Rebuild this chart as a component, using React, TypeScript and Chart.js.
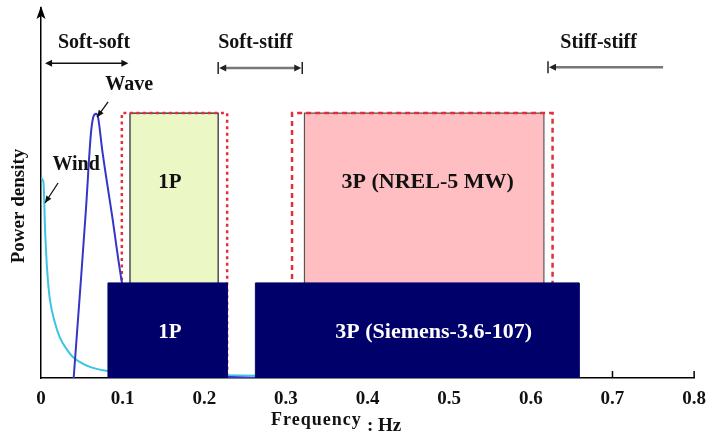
import React, { useEffect, useRef } from "react";
import { Chart, registerables } from "chart.js";

Chart.register(...registerables);

// ---- data ----
const xTicks = [0, 0.1, 0.2, 0.3, 0.4, 0.5, 0.6, 0.7, 0.8];

const windFreq = [0, 0.003, 0.005, 0.007, 0.009, 0.011, 0.017, 0.023, 0.032, 0.039, 0.06, 0.081, 0.12, 0.195, 0.305];
const windDensity = [0.54, 0.53, 0.4, 0.31, 0.25, 0.21, 0.15, 0.11, 0.076, 0.057, 0.03, 0.019, 0.012, 0.008, 0.005];

const waveFreq = [0.04, 0.048, 0.055, 0.061, 0.064, 0.0675, 0.07, 0.075, 0.087, 0.099, 0.112, 0.134, 0.17, 0.232, 0.27];
const waveDensity = [0, 0.238, 0.454, 0.657, 0.705, 0.714, 0.703, 0.616, 0.44, 0.26, 0.13, 0.035, 0.01, 0.003, 0.0];

// frequency bands [from, to]
const nrel1P = [0.109, 0.217];
const nrel3P = [0.3227, 0.616];
const nrel1PLimits = [0.099, 0.228];
const nrel3PLimits = [0.3075, 0.6266];
const siemens1P = [0.082, 0.228];
const siemens3P = [0.2626, 0.659];
const nrelLevel = 0.716;
const siemensLevel = 0.257;

// design regions [from, to]
const softSoft = [0.005, 0.107];
const softStiff = [0.217, 0.32];
const stiffStiff = [0.621, 0.762];

const FONT = "'Liberation Serif', 'Times New Roman', serif";

function box(range: number[], level: number) {
  return [
    { x: range[0], y: 0 },
    { x: range[0], y: level },
    { x: range[1], y: level },
    { x: range[1], y: 0 },
  ];
}

function pts(xs: number[], ys: number[]) {
  return xs.map((x, i) => ({ x, y: ys[i] }));
}

const annotationPlugin = {
  id: "annot",
  beforeDatasetsDraw(chart: any) {
    const { ctx, scales } = chart;
    const xs = scales.x;
    const y0 = scales.y.getPixelForValue(0);
    ctx.save();
    ctx.strokeStyle = "#000";
    ctx.lineWidth = 1.5;
    xTicks.forEach((t) => {
      if (t === 0) return;
      const px = xs.getPixelForValue(t);
      ctx.beginPath();
      ctx.moveTo(px, y0);
      ctx.lineTo(px, y0 - 7);
      ctx.stroke();
    });
    ctx.restore();
  },
  afterDatasetsDraw(chart: any) {
    const { ctx, scales, chartArea } = chart;
    const X = (v: number) => scales.x.getPixelForValue(v);
    const Y = (v: number) => scales.y.getPixelForValue(v);
    ctx.save();

    const text = (s: string, x: number, y: number, size: number, color = "#111") => {
      ctx.font = `bold ${size}px ${FONT}`;
      ctx.fillStyle = color;
      ctx.textAlign = "center";
      ctx.textBaseline = "middle";
      ctx.fillText(s, x, y);
    };
    const head = (x: number, y: number, dir: number, color: string, len = 7, hw = 3.5) => {
      ctx.fillStyle = color;
      ctx.beginPath();
      ctx.moveTo(x, y);
      ctx.lineTo(x - dir * len, y - hw);
      ctx.lineTo(x - dir * len, y + hw);
      ctx.closePath();
      ctx.fill();
    };
    const hline = (a: number, b: number, y: number, color: string, w: number) => {
      ctx.strokeStyle = color;
      ctx.lineWidth = w;
      ctx.beginPath();
      ctx.moveTo(a, y);
      ctx.lineTo(b, y);
      ctx.stroke();
    };
    const bar = (x: number, y: number, color: string) => {
      ctx.strokeStyle = color;
      ctx.lineWidth = 1.5;
      ctx.beginPath();
      ctx.moveTo(x, y - 6);
      ctx.lineTo(x, y + 6);
      ctx.stroke();
    };
    const diag = (x1: number, y1: number, x2: number, y2: number) => {
      ctx.strokeStyle = "#111";
      ctx.lineWidth = 1.3;
      ctx.beginPath();
      ctx.moveTo(x1, y1);
      ctx.lineTo(x2, y2);
      ctx.stroke();
      const ang = Math.atan2(y2 - y1, x2 - x1);
      ctx.fillStyle = "#111";
      ctx.beginPath();
      ctx.moveTo(x2, y2);
      ctx.lineTo(x2 - 7 * Math.cos(ang) + 3 * Math.sin(ang), y2 - 7 * Math.sin(ang) - 3 * Math.cos(ang));
      ctx.lineTo(x2 - 7 * Math.cos(ang) - 3 * Math.sin(ang), y2 - 7 * Math.sin(ang) + 3 * Math.cos(ang));
      ctx.closePath();
      ctx.fill();
    };

    // y-axis arrowhead
    const ax = chartArea.left;
    ctx.fillStyle = "#000";
    ctx.beginPath();
    ctx.moveTo(ax, chartArea.top - 2);
    ctx.lineTo(ax - 4.5, chartArea.top + 11);
    ctx.lineTo(ax, chartArea.top + 8);
    ctx.lineTo(ax + 4.5, chartArea.top + 11);
    ctx.closePath();
    ctx.fill();

    // region labels and arrows
    text("Soft-soft", X(0.065), Y(0.905), 20);
    const ys = Y(0.851);
    hline(X(softSoft[0]) + 4, X(softSoft[1]) - 4, ys, "#111", 1.5);
    head(X(softSoft[0]), ys, -1, "#111");
    head(X(softSoft[1]), ys, 1, "#111");

    text("Soft-stiff", X(0.2626), Y(0.905), 20);
    const yst = Y(0.838);
    hline(X(softStiff[0]) + 4, X(softStiff[1]) - 4, yst, "#777", 2.5);
    head(X(softStiff[0]) + 1, yst, -1, "#222");
    head(X(softStiff[1]) - 1, yst, 1, "#222");
    bar(X(softStiff[0]), yst, "#222");
    bar(X(softStiff[1]), yst, "#222");

    text("Stiff-stiff", X(0.683), Y(0.905), 20);
    const ysf = Y(0.84);
    hline(X(stiffStiff[0]) + 4, X(stiffStiff[1]), ysf, "#777", 2.5);
    head(X(stiffStiff[0]) + 1, ysf, -1, "#222");
    bar(X(stiffStiff[0]), ysf, "#222");

    // curve labels
    text("Wave", X(0.108), Y(0.792), 20);
    diag(X(0.0822), Y(0.746), X(0.0687), Y(0.705));
    text("Wind", X(0.043), Y(0.576), 20);
    diag(X(0.0209), Y(0.527), X(0.0049), Y(0.473));

    // band labels
    text("1P", X(0.158), Y(0.527), 21);
    text("3P (NREL-5 MW)", X(0.4736), Y(0.53), 22);
    text("1P", X(0.158), Y(0.124), 21, "#fff");
    text("3P (Siemens-3.6-107)", X(0.481), Y(0.124), 22, "#fff");

    // axis titles
    ctx.save();
    ctx.translate(19, 206);
    ctx.rotate(-Math.PI / 2);
    text("Power density", 0, 0, 19);
    ctx.restore();
    ctx.font = `bold 18px ${FONT}`;
    ctx.fillStyle = "#111";
    ctx.textAlign = "left";
    ctx.textBaseline = "middle";
    try { (ctx as any).letterSpacing = "1px"; } catch (e) {}
    ctx.fillText("Frequency", 271, 420);
    try { (ctx as any).letterSpacing = "0px"; } catch (e) {}
    ctx.font = `bold 19px ${FONT}`;
    ctx.fillText(": Hz", 367, 426);

    ctx.restore();
  },
};

export default function App() {
  const ref = useRef<HTMLCanvasElement>(null);
  useEffect(() => {
    document.body.style.margin = "0";
    const common = { pointRadius: 0, pointHoverRadius: 0, tension: 0 };
    const chart = new Chart(ref.current as HTMLCanvasElement, {
      type: "line",
      data: {
        datasets: [
          { label: "1P (Siemens-3.6-107)", data: box(siemens1P, siemensLevel), backgroundColor: "#00006a", borderColor: "#00006a", borderWidth: 1, fill: "origin", order: 0, ...common },
          { label: "3P (Siemens-3.6-107)", data: box(siemens3P, siemensLevel), backgroundColor: "#00006a", borderColor: "#00006a", borderWidth: 1, fill: "origin", order: 0, ...common },
          { label: "Wave", data: pts(waveFreq, waveDensity), borderColor: "#3535c8", borderWidth: 2, fill: false, order: 1, ...common, cubicInterpolationMode: "monotone" },
          { label: "Wind", data: pts(windFreq, windDensity), borderColor: "#3cc4e4", borderWidth: 2, fill: false, order: 2, ...common, cubicInterpolationMode: "monotone" },
          { label: "1P limits", data: box(nrel1PLimits, nrelLevel), borderColor: "#e0303c", borderWidth: 2.5, borderDash: [3, 3.5], fill: false, order: 3, ...common },
          { label: "3P limits", data: box(nrel3PLimits, nrelLevel), borderColor: "#e0303c", borderWidth: 2.5, borderDash: [5, 4], fill: false, order: 3, ...common },
          { label: "1P (NREL-5 MW)", data: box(nrel1P, nrelLevel), backgroundColor: "#ebf7c5", borderColor: "#222", borderWidth: 1.2, fill: "origin", order: 4, ...common },
          { label: "3P (NREL-5 MW)", data: box(nrel3P, nrelLevel), backgroundColor: "#ffbfc2", borderColor: "#555", borderWidth: 1.2, fill: "origin", order: 4, ...common },
        ] as any,
      },
      options: {
        responsive: false,
        animation: false,
        layout: { padding: { top: 8, right: 10, left: 0, bottom: 0 } },
        plugins: { legend: { display: false }, tooltip: { enabled: false } },
        scales: {
          x: {
            type: "linear",
            min: 0,
            max: 0.8,
            afterFit: (s: any) => { s.height = 59; },
            afterBuildTicks: (s: any) => { s.ticks = xTicks.map((v) => ({ value: v })); },
            grid: { display: false },
            border: { display: true, color: "#000", width: 1.5 },
            ticks: {
              color: "#111",
              padding: 2,
              maxRotation: 0,
              font: { family: FONT, size: 19, weight: "bold" },
              callback: (v: any) => (v === 0 ? "0" : Number(v).toFixed(1)),
            },
          },
          y: {
            type: "linear",
            min: 0,
            max: 1,
            afterFit: (s: any) => { s.width = 41; },
            grid: { display: false },
            border: { display: true, color: "#000", width: 1.5 },
            ticks: { display: false },
          },
        },
      } as any,
      plugins: [annotationPlugin],
    });
    return () => chart.destroy();
  }, []);
  return (
    <div style={{ width: 708, height: 437, background: "#fff" }}>
      <canvas ref={ref} width={708} height={437} />
    </div>
  );
}
